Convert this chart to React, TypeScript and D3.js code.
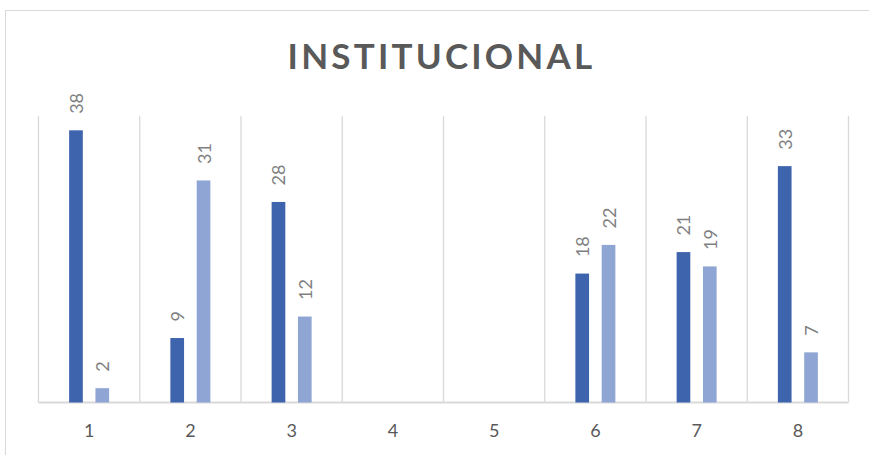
import React from "react";
import * as d3 from "d3";

const title = "INSTITUCIONAL";
const categories = ["1", "2", "3", "4", "5", "6", "7", "8"];
const series1: (number | null)[] = [38, 9, 28, null, null, 18, 21, 33];
const series2: (number | null)[] = [2, 31, 12, null, null, 22, 19, 7];
const yMax = 40;

const W = 869;
const H = 455;
const FONT = "Lato, 'Open Sans', sans-serif";

export default function App() {
  const left = 38.5;
  const right = 848.5;
  const top = 116;
  const bottom = 402.5;

  const x = d3.scaleBand<string>().domain(categories).range([left, right]).padding(0);
  const step = x.bandwidth();
  const x1 = d3
    .scaleBand<string>()
    .domain(["s1", "s2"])
    .range([step / 2 - 20, step / 2 + 20])
    .paddingInner(0.48)
    .paddingOuter(0);
  const y = d3.scaleLinear().domain([0, yMax]).range([bottom, top]);

  const colors: Record<string, string> = { s1: "#3d64ad", s2: "#8fa5d4" };
  const seriesList = [
    { key: "s1", values: series1 },
    { key: "s2", values: series2 },
  ];

  const boundaries = d3.range(categories.length + 1).map((i) =>
    i === categories.length ? right : (x(categories[i]) as number)
  );

  return (
    <svg
      width={W}
      height={H}
      style={{ position: "absolute", left: 0, top: 0, background: "#fff" }}
    >
      <rect x={5.5} y={10.5} width={W} height={H} fill="#fff" stroke="#d9d9d9" strokeWidth={1} />
      <text
        x={441.5}
        y={68.5}
        textAnchor="middle"
        fontFamily={FONT}
        fontWeight={700}
        fontSize={35}
        letterSpacing={3.2}
        fill="#595959"
      >
        {title}
      </text>
      {boundaries.map((bx, i) => (
        <line key={"g" + i} x1={bx} x2={bx} y1={top} y2={bottom} stroke="#d9d9d9" strokeWidth={1.3} />
      ))}
      <line x1={left} x2={right} y1={bottom} y2={bottom} stroke="#d9d9d9" strokeWidth={2} />
      {seriesList.map((s) =>
        s.values.map((v, i) => {
          if (v === null) return null;
          const bx = (x(categories[i]) as number) + (x1(s.key) as number);
          const bw = x1.bandwidth();
          const yt = y(v);
          const cx = bx + bw / 2 + 0.5;
          const ly = yt - 16.5;
          return (
            <g key={s.key + i}>
              <rect x={bx} y={yt} width={bw} height={bottom - yt} fill={colors[s.key]} />
              <text
                transform={`translate(${cx},${ly}) rotate(-90)`}
                dy="0.36em"
                textAnchor="start"
                fontFamily={FONT}
                fontSize={18}
                fill="#7f7f7f"
              >
                {v}
              </text>
            </g>
          );
        })
      )}
      {categories.map((c) => (
        <text
          key={"c" + c}
          x={(x(c) as number) + step / 2}
          y={437}
          textAnchor="middle"
          fontFamily={FONT}
          fontSize={18}
          fill="#595959"
        >
          {c}
        </text>
      ))}
    </svg>
  );
}
